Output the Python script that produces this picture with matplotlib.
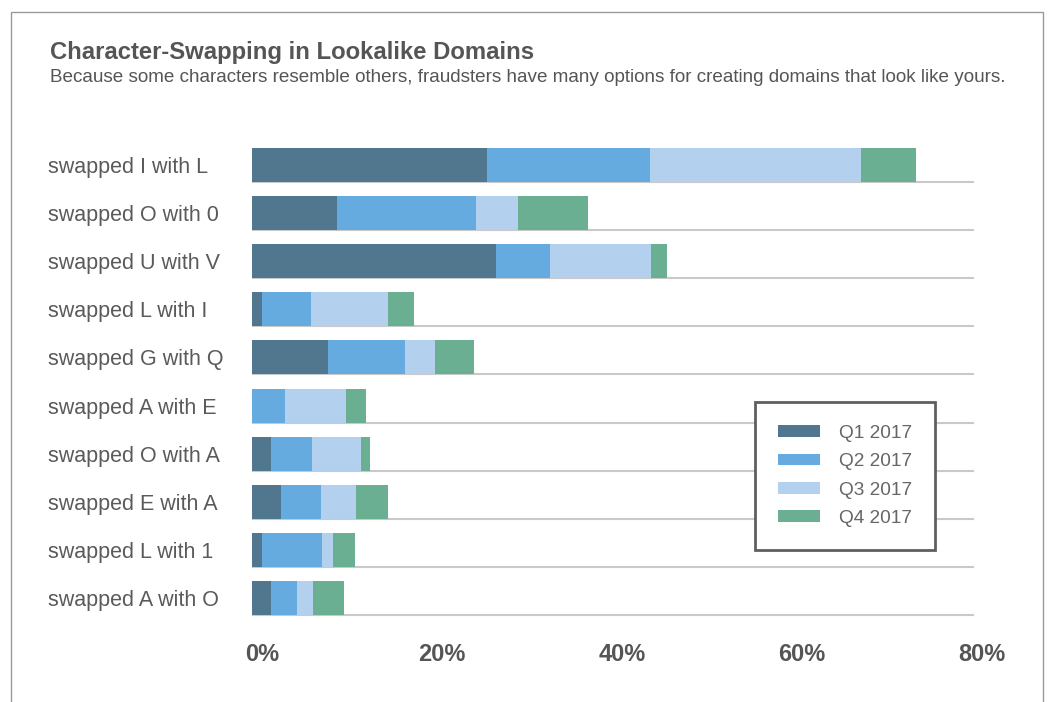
import numpy as np
import matplotlib
matplotlib.use("Agg")
import matplotlib.pyplot as plt
from matplotlib.patches import Patch, Rectangle
from matplotlib.transforms import ScaledTranslation

# data (percent of lookalike domains per quarter)
swaps = ["swapped I with L", "swapped O with 0", "swapped U with V",
         "swapped L with I", "swapped G with Q", "swapped A with E",
         "swapped O with A", "swapped E with A", "swapped L with 1",
         "swapped A with O"]
q1 = [26.1, 9.4, 27.1, 1.1, 8.4, 0.0, 2.1, 3.2, 1.1, 2.1]
q2 = [18.1, 15.5, 6.0, 5.5, 8.6, 3.7, 4.6, 4.5, 6.7, 2.9]
q3 = [23.5, 4.7, 11.2, 8.5, 3.3, 6.7, 5.4, 3.9, 1.2, 1.8]
q4 = [6.1, 7.7, 1.8, 2.9, 4.4, 2.3, 1.0, 3.5, 2.4, 3.4]
quarters = ["Q1 2017", "Q2 2017", "Q3 2017", "Q4 2017"]
ticks = [0, 20, 40, 60, 80]

colors = ['#51778f', '#65abe0', '#b3d1ef', '#6baf92']
text_grey = '#555555'

W, H = 1049, 702
fig = plt.figure(figsize=(W / 100, H / 100), dpi=100)
fig.patch.set_facecolor('white')

# axes placed in pixel terms: x 252..972, y 141..622
ax = fig.add_axes([252 / W, 1 - 622 / H, 720 / W, 481 / H])

y = np.arange(len(swaps))
bar_h = 0.708
left = np.zeros(len(swaps))
for vals, col, lab in zip([q1, q2, q3, q4], colors, quarters):
    ax.barh(y, vals, left=left, height=bar_h, color=col, label=lab, zorder=2)
    left += np.array(vals)

# light rule under each bar
ax.hlines(y + bar_h / 2, 0, 80.2, color='#c9c9c9', linewidth=1.5,
          zorder=1, clip_on=False)

ax.set_xlim(0, 80)
ax.set_ylim(len(swaps) - 0.5, -0.5)
for s in ax.spines.values():
    s.set_visible(False)

ax.set_xticks(ticks)
ax.set_xticklabels([f'{t}%' for t in ticks], fontsize=17, fontweight='bold',
                   color=text_grey, family='Liberation Sans')
ax.set_yticks(y)
ax.set_yticklabels(swaps, fontsize=15.5, color='#5a5a5a',
                   family='Liberation Sans', ha='left')
ax.tick_params(axis='x', length=0, pad=15)
ax.tick_params(axis='y', length=0, pad=146.9)

# percent labels sit a little right of their tick
shift = ScaledTranslation(10 / 100, 0, fig.dpi_scale_trans)
for lab in ax.get_xticklabels():
    lab.set_transform(lab.get_transform() + shift)

# title block
fig.text(50 / W, 1 - 53 / H, 'Character-Swapping in Lookalike Domains',
         fontsize=17.2, fontweight='bold', color=text_grey,
         family='Liberation Sans', va='center', ha='left')
fig.text(50 / W, 1 - 78 / H,
         'Because some characters resemble others, fraudsters have many '
         'options for creating domains that look like yours.',
         fontsize=13.55, color=text_grey, family='Liberation Sans',
         va='center', ha='left')

# legend
handles = [Patch(facecolor=c, edgecolor='none', label=l)
           for c, l in zip(colors, quarters)]
leg = fig.legend(handles=handles, loc='upper left',
                 bbox_to_anchor=(755 / W, 1 - 402 / H),
                 frameon=True, fancybox=False, framealpha=1,
                 handlelength=2.2, handleheight=0.58, handletextpad=1.0,
                 labelspacing=0.6, borderpad=1.2, borderaxespad=0,
                 prop={'family': 'Liberation Sans', 'size': 13.7})
leg.get_frame().set_edgecolor('#5f5f5f')
leg.get_frame().set_linewidth(2.0)
for t in leg.get_texts():
    t.set_color('#666666')

# outer frame of the card
fig.add_artist(Rectangle((11 / W, -0.02), (1043 - 11) / W, 1 - 12 / H + 0.02,
                         transform=fig.transFigure, fill=False,
                         edgecolor='#9a9a9a', linewidth=1.0))

fig.savefig('out.png', dpi=100)
